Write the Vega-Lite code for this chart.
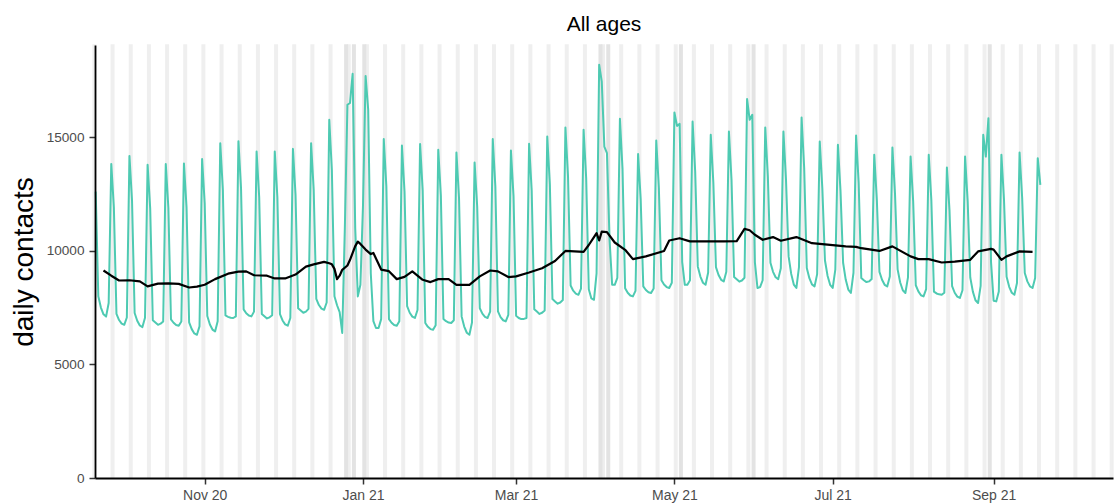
{
  "$schema": "https://vega.github.io/schema/vega-lite/v6.json",
  "autosize": {"type": "none"},
  "width": 1018,
  "height": 433,
  "padding": {"left": 95, "top": 45, "right": 7, "bottom": 25},
  "background": "white",
  "title": {"text": "All ages", "font": "Liberation Sans", "fontSize": 21, "fontWeight": "normal", "color": "#000000", "anchor": "middle", "frame": "group", "baseline": "alphabetic", "offset": -8},
  "config": {
    "view": {"stroke": null},
    "axis": {"grid": false, "domainColor": "#000000", "domainWidth": 1.8, "tickColor": "#333333", "tickWidth": 1.5, "tickSize": 6, "labelFont": "Liberation Sans", "labelColor": "#4D4D4D", "titleFont": "Liberation Sans"}
  },
  "datasets": {
    "weekends": [
      {"sat":"2020-09-19","sun":"2020-09-20"},{"sat":"2020-09-26","sun":"2020-09-27"},{"sat":"2020-10-03","sun":"2020-10-04"},{"sat":"2020-10-10","sun":"2020-10-11"},{"sat":"2020-10-17","sun":"2020-10-18"},{"sat":"2020-10-24","sun":"2020-10-25"},{"sat":"2020-10-31","sun":"2020-11-01"},{"sat":"2020-11-07","sun":"2020-11-08"},{"sat":"2020-11-14","sun":"2020-11-15"},{"sat":"2020-11-21","sun":"2020-11-22"},{"sat":"2020-11-28","sun":"2020-11-29"},{"sat":"2020-12-05","sun":"2020-12-06"},{"sat":"2020-12-12","sun":"2020-12-13"},{"sat":"2020-12-19","sun":"2020-12-20"},{"sat":"2020-12-26","sun":"2020-12-27"},
      {"sat":"2021-01-02","sun":"2021-01-03"},{"sat":"2021-01-09","sun":"2021-01-10"},{"sat":"2021-01-16","sun":"2021-01-17"},{"sat":"2021-01-23","sun":"2021-01-24"},{"sat":"2021-01-30","sun":"2021-01-31"},{"sat":"2021-02-06","sun":"2021-02-07"},{"sat":"2021-02-13","sun":"2021-02-14"},{"sat":"2021-02-20","sun":"2021-02-21"},{"sat":"2021-02-27","sun":"2021-02-28"},{"sat":"2021-03-06","sun":"2021-03-07"},{"sat":"2021-03-13","sun":"2021-03-14"},{"sat":"2021-03-20","sun":"2021-03-21"},{"sat":"2021-03-27","sun":"2021-03-28"},{"sat":"2021-04-03","sun":"2021-04-04"},{"sat":"2021-04-10","sun":"2021-04-11"},{"sat":"2021-04-17","sun":"2021-04-18"},{"sat":"2021-04-24","sun":"2021-04-25"},{"sat":"2021-05-01","sun":"2021-05-02"},{"sat":"2021-05-08","sun":"2021-05-09"},{"sat":"2021-05-15","sun":"2021-05-16"},{"sat":"2021-05-22","sun":"2021-05-23"},{"sat":"2021-05-29","sun":"2021-05-30"},{"sat":"2021-06-05","sun":"2021-06-06"},{"sat":"2021-06-12","sun":"2021-06-13"},{"sat":"2021-06-19","sun":"2021-06-20"},{"sat":"2021-06-26","sun":"2021-06-27"},{"sat":"2021-07-03","sun":"2021-07-04"},{"sat":"2021-07-10","sun":"2021-07-11"},{"sat":"2021-07-17","sun":"2021-07-18"},{"sat":"2021-07-24","sun":"2021-07-25"},{"sat":"2021-07-31","sun":"2021-08-01"},{"sat":"2021-08-07","sun":"2021-08-08"},{"sat":"2021-08-14","sun":"2021-08-15"},{"sat":"2021-08-21","sun":"2021-08-22"},{"sat":"2021-08-28","sun":"2021-08-29"},{"sat":"2021-09-04","sun":"2021-09-05"},{"sat":"2021-09-11","sun":"2021-09-12"},{"sat":"2021-09-18","sun":"2021-09-19"},{"sat":"2021-09-25","sun":"2021-09-26"},{"sat":"2021-10-02","sun":"2021-10-03"},{"sat":"2021-10-09","sun":"2021-10-10"},{"sat":"2021-10-16","sun":"2021-10-17"}
    ],
    "holidays": [
      {"day":"2020-12-25","next":"2020-12-26"},{"day":"2020-12-28","next":"2020-12-29"},{"day":"2021-01-01","next":"2021-01-02"},{"day":"2021-04-02","next":"2021-04-03"},{"day":"2021-04-05","next":"2021-04-06"},{"day":"2021-05-03","next":"2021-05-04"},{"day":"2021-05-31","next":"2021-06-01"},{"day":"2021-08-30","next":"2021-08-31"}
    ],
    "daily": [
      {"d":"2020-09-20","v":12600},{"d":"2020-09-21","v":8000},{"d":"2020-09-22","v":7500},{"d":"2020-09-23","v":7200},{"d":"2020-09-24","v":7100},{"d":"2020-09-25","v":7700},{"d":"2020-09-26","v":13820},
      {"d":"2020-09-27","v":11900},{"d":"2020-09-28","v":7220},{"d":"2020-09-29","v":6950},{"d":"2020-09-30","v":6790},{"d":"2020-10-01","v":6740},{"d":"2020-10-02","v":7060},{"d":"2020-10-03","v":14170},
      {"d":"2020-10-04","v":12190},{"d":"2020-10-05","v":7260},{"d":"2020-10-06","v":6920},{"d":"2020-10-07","v":6710},{"d":"2020-10-08","v":6640},{"d":"2020-10-09","v":7050},{"d":"2020-10-10","v":13780},
      {"d":"2020-10-11","v":11850},{"d":"2020-10-12","v":6940},{"d":"2020-10-13","v":6840},{"d":"2020-10-14","v":6740},{"d":"2020-10-15","v":6790},{"d":"2020-10-16","v":6890},{"d":"2020-10-17","v":13810},
      {"d":"2020-10-18","v":11880},{"d":"2020-10-19","v":6980},{"d":"2020-10-20","v":6830},{"d":"2020-10-21","v":6730},{"d":"2020-10-22","v":6700},{"d":"2020-10-23","v":6890},{"d":"2020-10-24","v":13840},
      {"d":"2020-10-25","v":11900},{"d":"2020-10-26","v":6850},{"d":"2020-10-27","v":6550},{"d":"2020-10-28","v":6360},{"d":"2020-10-29","v":6300},{"d":"2020-10-30","v":6670},{"d":"2020-10-31","v":14030},
      {"d":"2020-11-01","v":12070},{"d":"2020-11-02","v":7130},{"d":"2020-11-03","v":6750},{"d":"2020-11-04","v":6530},{"d":"2020-11-05","v":6450},{"d":"2020-11-06","v":6900},{"d":"2020-11-07","v":14730},
      {"d":"2020-11-08","v":12670},{"d":"2020-11-09","v":7150},{"d":"2020-11-10","v":7090},{"d":"2020-11-11","v":7050},{"d":"2020-11-12","v":7040},{"d":"2020-11-13","v":7110},{"d":"2020-11-14","v":14820},
      {"d":"2020-11-15","v":12750},{"d":"2020-11-16","v":7420},{"d":"2020-11-17","v":7250},{"d":"2020-11-18","v":7150},{"d":"2020-11-19","v":7110},{"d":"2020-11-20","v":7320},{"d":"2020-11-21","v":14360},
      {"d":"2020-11-22","v":12350},{"d":"2020-11-23","v":7220},{"d":"2020-11-24","v":7120},{"d":"2020-11-25","v":7020},{"d":"2020-11-26","v":7070},{"d":"2020-11-27","v":7160},{"d":"2020-11-28","v":14360},
      {"d":"2020-11-29","v":12350},{"d":"2020-11-30","v":7210},{"d":"2020-12-01","v":6930},{"d":"2020-12-02","v":6760},{"d":"2020-12-03","v":6700},{"d":"2020-12-04","v":7040},{"d":"2020-12-05","v":14480},
      {"d":"2020-12-06","v":12450},{"d":"2020-12-07","v":7470},{"d":"2020-12-08","v":7370},{"d":"2020-12-09","v":7270},{"d":"2020-12-10","v":7320},{"d":"2020-12-11","v":7440},{"d":"2020-12-12","v":14730},
      {"d":"2020-12-13","v":12670},{"d":"2020-12-14","v":7880},{"d":"2020-12-15","v":7610},{"d":"2020-12-16","v":7450},{"d":"2020-12-17","v":7400},{"d":"2020-12-18","v":7720},{"d":"2020-12-19","v":15760},
      {"d":"2020-12-20","v":13550},{"d":"2020-12-21","v":8000},{"d":"2020-12-22","v":7600},{"d":"2020-12-23","v":7300},{"d":"2020-12-24","v":6380},{"d":"2020-12-25","v":11000},{"d":"2020-12-26","v":16420},
      {"d":"2020-12-27","v":16500},{"d":"2020-12-28","v":17780},{"d":"2020-12-29","v":11000},{"d":"2020-12-30","v":7990},{"d":"2020-12-31","v":8500},{"d":"2021-01-01","v":12000},{"d":"2021-01-02","v":17690},
      {"d":"2021-01-03","v":16200},{"d":"2021-01-04","v":9000},{"d":"2021-01-05","v":6900},{"d":"2021-01-06","v":6600},{"d":"2021-01-07","v":6600},{"d":"2021-01-08","v":6990},{"d":"2021-01-09","v":14910},
      {"d":"2021-01-10","v":12820},{"d":"2021-01-11","v":6990},{"d":"2021-01-12","v":6830},{"d":"2021-01-13","v":6730},{"d":"2021-01-14","v":6700},{"d":"2021-01-15","v":6900},{"d":"2021-01-16","v":14630},
      {"d":"2021-01-17","v":12580},{"d":"2021-01-18","v":7560},{"d":"2021-01-19","v":7270},{"d":"2021-01-20","v":7100},{"d":"2021-01-21","v":7040},{"d":"2021-01-22","v":7390},{"d":"2021-01-23","v":14690},
      {"d":"2021-01-24","v":12630},{"d":"2021-01-25","v":6820},{"d":"2021-01-26","v":6650},{"d":"2021-01-27","v":6550},{"d":"2021-01-28","v":6520},{"d":"2021-01-29","v":6720},{"d":"2021-01-30","v":14440},
      {"d":"2021-01-31","v":12420},{"d":"2021-02-01","v":7000},{"d":"2021-02-02","v":6900},{"d":"2021-02-03","v":6840},{"d":"2021-02-04","v":6820},{"d":"2021-02-05","v":6940},{"d":"2021-02-06","v":14320},
      {"d":"2021-02-07","v":12320},{"d":"2021-02-08","v":7110},{"d":"2021-02-09","v":6660},{"d":"2021-02-10","v":6390},{"d":"2021-02-11","v":6300},{"d":"2021-02-12","v":6840},{"d":"2021-02-13","v":13880},
      {"d":"2021-02-14","v":11940},{"d":"2021-02-15","v":7470},{"d":"2021-02-16","v":7230},{"d":"2021-02-17","v":7090},{"d":"2021-02-18","v":7040},{"d":"2021-02-19","v":7320},{"d":"2021-02-20","v":14910},
      {"d":"2021-02-21","v":12820},{"d":"2021-02-22","v":7330},{"d":"2021-02-23","v":7080},{"d":"2021-02-24","v":6940},{"d":"2021-02-25","v":6890},{"d":"2021-02-26","v":7180},{"d":"2021-02-27","v":14410},
      {"d":"2021-02-28","v":12390},{"d":"2021-03-01","v":7140},{"d":"2021-03-02","v":7040},{"d":"2021-03-03","v":6990},{"d":"2021-03-04","v":7000},{"d":"2021-03-05","v":7040},{"d":"2021-03-06","v":14700},
      {"d":"2021-03-07","v":12640},{"d":"2021-03-08","v":7420},{"d":"2021-03-09","v":7320},{"d":"2021-03-10","v":7220},{"d":"2021-03-11","v":7270},{"d":"2021-03-12","v":7370},{"d":"2021-03-13","v":15020},
      {"d":"2021-03-14","v":12920},{"d":"2021-03-15","v":7870},{"d":"2021-03-16","v":7770},{"d":"2021-03-17","v":7670},{"d":"2021-03-18","v":7720},{"d":"2021-03-19","v":7830},{"d":"2021-03-20","v":15420},
      {"d":"2021-03-21","v":13260},{"d":"2021-03-22","v":8470},{"d":"2021-03-23","v":8240},{"d":"2021-03-24","v":8110},{"d":"2021-03-25","v":8060},{"d":"2021-03-26","v":8330},{"d":"2021-03-27","v":15320},
      {"d":"2021-03-28","v":13180},{"d":"2021-03-29","v":8300},{"d":"2021-03-30","v":7900},{"d":"2021-03-31","v":7840},{"d":"2021-04-01","v":9000},{"d":"2021-04-02","v":18180},{"d":"2021-04-03","v":17440},
      {"d":"2021-04-04","v":14580},{"d":"2021-04-05","v":14290},{"d":"2021-04-06","v":10500},{"d":"2021-04-07","v":8500},{"d":"2021-04-08","v":8500},{"d":"2021-04-09","v":8800},{"d":"2021-04-10","v":15800},
      {"d":"2021-04-11","v":13590},{"d":"2021-04-12","v":8350},{"d":"2021-04-13","v":8150},{"d":"2021-04-14","v":8030},{"d":"2021-04-15","v":7990},{"d":"2021-04-16","v":8230},{"d":"2021-04-17","v":14250},
      {"d":"2021-04-18","v":12260},{"d":"2021-04-19","v":8430},{"d":"2021-04-20","v":8270},{"d":"2021-04-21","v":8170},{"d":"2021-04-22","v":8140},{"d":"2021-04-23","v":8340},{"d":"2021-04-24","v":14850},
      {"d":"2021-04-25","v":12770},{"d":"2021-04-26","v":8700},{"d":"2021-04-27","v":8510},{"d":"2021-04-28","v":8400},{"d":"2021-04-29","v":8360},{"d":"2021-04-30","v":8590},{"d":"2021-05-01","v":16080},
      {"d":"2021-05-02","v":15490},{"d":"2021-05-03","v":15580},{"d":"2021-05-04","v":9500},{"d":"2021-05-05","v":8500},{"d":"2021-05-06","v":8500},{"d":"2021-05-07","v":8700},{"d":"2021-05-08","v":15680},
      {"d":"2021-05-09","v":13480},{"d":"2021-05-10","v":9310},{"d":"2021-05-11","v":8860},{"d":"2021-05-12","v":8590},{"d":"2021-05-13","v":8500},{"d":"2021-05-14","v":9040},{"d":"2021-05-15","v":15100},
      {"d":"2021-05-16","v":12990},{"d":"2021-05-17","v":9280},{"d":"2021-05-18","v":8930},{"d":"2021-05-19","v":8720},{"d":"2021-05-20","v":8650},{"d":"2021-05-21","v":9070},{"d":"2021-05-22","v":15240},
      {"d":"2021-05-23","v":13110},{"d":"2021-05-24","v":8840},{"d":"2021-05-25","v":8740},{"d":"2021-05-26","v":8640},{"d":"2021-05-27","v":8690},{"d":"2021-05-28","v":8810},{"d":"2021-05-29","v":16670},
      {"d":"2021-05-30","v":15760},{"d":"2021-05-31","v":15980},{"d":"2021-06-01","v":9500},{"d":"2021-06-02","v":8360},{"d":"2021-06-03","v":8400},{"d":"2021-06-04","v":8700},{"d":"2021-06-05","v":15420},
      {"d":"2021-06-06","v":13260},{"d":"2021-06-07","v":9470},{"d":"2021-06-08","v":9070},{"d":"2021-06-09","v":8830},{"d":"2021-06-10","v":8750},{"d":"2021-06-11","v":9230},{"d":"2021-06-12","v":15240},
      {"d":"2021-06-13","v":13110},{"d":"2021-06-14","v":9750},{"d":"2021-06-15","v":8980},{"d":"2021-06-16","v":8510},{"d":"2021-06-17","v":8360},{"d":"2021-06-18","v":9280},{"d":"2021-06-19","v":15860},
      {"d":"2021-06-20","v":13640},{"d":"2021-06-21","v":9240},{"d":"2021-06-22","v":8790},{"d":"2021-06-23","v":8520},{"d":"2021-06-24","v":8430},{"d":"2021-06-25","v":8970},{"d":"2021-06-26","v":14800},
      {"d":"2021-06-27","v":12730},{"d":"2021-06-28","v":9580},{"d":"2021-06-29","v":8900},{"d":"2021-06-30","v":8500},{"d":"2021-07-01","v":8360},{"d":"2021-07-02","v":9170},{"d":"2021-07-03","v":14660},
      {"d":"2021-07-04","v":12610},{"d":"2021-07-05","v":9470},{"d":"2021-07-06","v":8730},{"d":"2021-07-07","v":8290},{"d":"2021-07-08","v":8140},{"d":"2021-07-09","v":9030},{"d":"2021-07-10","v":15070},
      {"d":"2021-07-11","v":12960},{"d":"2021-07-12","v":8800},{"d":"2021-07-13","v":8700},{"d":"2021-07-14","v":8620},{"d":"2021-07-15","v":8650},{"d":"2021-07-16","v":8750},{"d":"2021-07-17","v":14220},
      {"d":"2021-07-18","v":12230},{"d":"2021-07-19","v":9070},{"d":"2021-07-20","v":8720},{"d":"2021-07-21","v":8500},{"d":"2021-07-22","v":8430},{"d":"2021-07-23","v":8860},{"d":"2021-07-24","v":14540},
      {"d":"2021-07-25","v":12500},{"d":"2021-07-26","v":9180},{"d":"2021-07-27","v":8600},{"d":"2021-07-28","v":8260},{"d":"2021-07-29","v":8140},{"d":"2021-07-30","v":8830},{"d":"2021-07-31","v":14140},
      {"d":"2021-08-01","v":12160},{"d":"2021-08-02","v":8480},{"d":"2021-08-03","v":8210},{"d":"2021-08-04","v":8040},{"d":"2021-08-05","v":7990},{"d":"2021-08-06","v":8310},{"d":"2021-08-07","v":14220},
      {"d":"2021-08-08","v":12230},{"d":"2021-08-09","v":8200},{"d":"2021-08-10","v":8120},{"d":"2021-08-11","v":8080},{"d":"2021-08-12","v":8060},{"d":"2021-08-13","v":8150},{"d":"2021-08-14","v":13660},
      {"d":"2021-08-15","v":11750},{"d":"2021-08-16","v":8440},{"d":"2021-08-17","v":8150},{"d":"2021-08-18","v":7980},{"d":"2021-08-19","v":7920},{"d":"2021-08-20","v":8260},{"d":"2021-08-21","v":14140},
      {"d":"2021-08-22","v":12160},{"d":"2021-08-23","v":8820},{"d":"2021-08-24","v":8200},{"d":"2021-08-25","v":7820},{"d":"2021-08-26","v":7700},{"d":"2021-08-27","v":8450},{"d":"2021-08-28","v":15100},
      {"d":"2021-08-29","v":14140},{"d":"2021-08-30","v":15830},{"d":"2021-08-31","v":9500},{"d":"2021-09-01","v":7800},{"d":"2021-09-02","v":7770},{"d":"2021-09-03","v":8200},{"d":"2021-09-04","v":14220},
      {"d":"2021-09-05","v":12230},{"d":"2021-09-06","v":8850},{"d":"2021-09-07","v":8410},{"d":"2021-09-08","v":8150},{"d":"2021-09-09","v":8060},{"d":"2021-09-10","v":8580},{"d":"2021-09-11","v":14320},
      {"d":"2021-09-12","v":12320},{"d":"2021-09-13","v":9020},{"d":"2021-09-14","v":8650},{"d":"2021-09-15","v":8430},{"d":"2021-09-16","v":8360},{"d":"2021-09-17","v":8800},{"d":"2021-09-18","v":14070},
      {"d":"2021-09-19","v":12900}
    ],
    "avg": [
      {"d":"2020-09-23","a":9130},{"d":"2020-09-26","a":8900},{"d":"2020-09-29","a":8690},{"d":"2020-10-03","a":8700},{"d":"2020-10-07","a":8650},{"d":"2020-10-10","a":8430},{"d":"2020-10-14","a":8550},{"d":"2020-10-18","a":8560},{"d":"2020-10-22","a":8540},{"d":"2020-10-26","a":8380},{"d":"2020-10-29","a":8420},{"d":"2020-11-01","a":8500},{"d":"2020-11-05","a":8750},{"d":"2020-11-10","a":8990},{"d":"2020-11-14","a":9080},{"d":"2020-11-17","a":9090},{"d":"2020-11-20","a":8920},{"d":"2020-11-25","a":8900},{"d":"2020-11-28","a":8780},{"d":"2020-12-02","a":8780},{"d":"2020-12-06","a":8950},{"d":"2020-12-10","a":9300},{"d":"2020-12-13","a":9400},{"d":"2020-12-17","a":9510},{"d":"2020-12-19","a":9450},{"d":"2020-12-20","a":9400},{"d":"2020-12-21","a":9200},{"d":"2020-12-22","a":8750},{"d":"2020-12-23","a":8900},{"d":"2020-12-24","a":9160},{"d":"2020-12-26","a":9350},{"d":"2020-12-27","a":9600},{"d":"2020-12-29","a":10200},{"d":"2020-12-30","a":10400},{"d":"2020-12-31","a":10300},{"d":"2021-01-02","a":10050},{"d":"2021-01-04","a":9850},{"d":"2021-01-05","a":9900},{"d":"2021-01-08","a":9170},{"d":"2021-01-11","a":9100},{"d":"2021-01-14","a":8750},{"d":"2021-01-17","a":8850},{"d":"2021-01-20","a":9090},{"d":"2021-01-24","a":8720},{"d":"2021-01-27","a":8620},{"d":"2021-01-30","a":8750},{"d":"2021-02-03","a":8750},{"d":"2021-02-06","a":8500},{"d":"2021-02-11","a":8500},{"d":"2021-02-15","a":8870},{"d":"2021-02-19","a":9130},{"d":"2021-02-22","a":9090},{"d":"2021-02-26","a":8840},{"d":"2021-03-01","a":8870},{"d":"2021-03-06","a":9040},{"d":"2021-03-11","a":9230},{"d":"2021-03-16","a":9550},{"d":"2021-03-20","a":9990},{"d":"2021-03-27","a":9950},{"d":"2021-03-29","a":10250},{"d":"2021-03-31","a":10600},{"d":"2021-04-01","a":10770},{"d":"2021-04-02","a":10450},{"d":"2021-04-03","a":10840},{"d":"2021-04-05","a":10820},{"d":"2021-04-08","a":10360},{"d":"2021-04-12","a":10040},{"d":"2021-04-15","a":9630},{"d":"2021-04-20","a":9750},{"d":"2021-04-27","a":9990},{"d":"2021-04-29","a":10450},{"d":"2021-05-03","a":10550},{"d":"2021-05-07","a":10410},{"d":"2021-05-12","a":10410},{"d":"2021-05-20","a":10410},{"d":"2021-05-25","a":10420},{"d":"2021-05-26","a":10600},{"d":"2021-05-28","a":10960},{"d":"2021-05-30","a":10900},{"d":"2021-06-01","a":10700},{"d":"2021-06-04","a":10480},{"d":"2021-06-08","a":10600},{"d":"2021-06-11","a":10440},{"d":"2021-06-17","a":10600},{"d":"2021-06-23","a":10330},{"d":"2021-06-30","a":10260},{"d":"2021-07-06","a":10190},{"d":"2021-07-10","a":10170},{"d":"2021-07-12","a":10110},{"d":"2021-07-19","a":9990},{"d":"2021-07-24","a":10190},{"d":"2021-07-31","a":9750},{"d":"2021-08-03","a":9630},{"d":"2021-08-07","a":9630},{"d":"2021-08-12","a":9480},{"d":"2021-08-17","a":9520},{"d":"2021-08-23","a":9600},{"d":"2021-08-26","a":9970},{"d":"2021-08-31","a":10080},{"d":"2021-09-01","a":10050},{"d":"2021-09-03","a":9750},{"d":"2021-09-04","a":9600},{"d":"2021-09-06","a":9750},{"d":"2021-09-11","a":9970},{"d":"2021-09-16","a":9950}
    ]
  },
  "layer": [
    {
      "data": {"name": "weekends"},
      "mark": {"type": "rect", "color": "#EFEFEF", "stroke": "#EFEFEF", "strokeWidth": 1.4},
      "encoding": {
        "x": {"field": "sat", "type": "temporal", "scale": {"type": "utc", "domain": [{"year": 2020, "month": 9, "date": 19, "hours": 17, "minutes": 30, "utc": true}, {"year": 2021, "month": 10, "date": 17, "utc": true}]},
          "axis": {"title": null, "format": "%b %y", "labelFontSize": 14, "labelPadding": 4, "zindex": 2,
            "values": [{"year": 2020, "month": 11, "date": 1, "utc": true}, {"year": 2021, "month": 1, "date": 1, "utc": true}, {"year": 2021, "month": 3, "date": 1, "utc": true}, {"year": 2021, "month": 5, "date": 1, "utc": true}, {"year": 2021, "month": 7, "date": 1, "utc": true}, {"year": 2021, "month": 9, "date": 1, "utc": true}]}},
        "x2": {"field": "sun"}
      }
    },
    {
      "data": {"name": "holidays"},
      "mark": {"type": "rect", "color": "#E3E3E3", "stroke": "#E3E3E3", "strokeWidth": 1.4},
      "encoding": {
        "x": {"field": "day", "type": "temporal"},
        "x2": {"field": "next"}
      }
    },
    {
      "data": {"name": "daily"},
      "mark": {"type": "line", "color": "#4ECAB2", "strokeWidth": 2, "strokeJoin": "round"},
      "encoding": {
        "x": {"field": "d", "type": "temporal"},
        "y": {"field": "v", "type": "quantitative", "scale": {"domain": [0, 19050], "nice": false, "zero": true},
          "axis": {"values": [0, 5000, 10000, 15000], "format": "d", "zindex": 2, "labelFontSize": 13.6, "labelPadding": 5, "title": "daily contacts", "titleFontSize": 28, "titleFontWeight": "normal", "titleColor": "#000000", "titleX": -63, "titleY": 216.5, "titleAngle": -90, "titleAlign": "center", "titleBaseline": "alphabetic"}}
      }
    },
    {
      "data": {"name": "avg"},
      "mark": {"type": "line", "color": "#000000", "strokeWidth": 2.2, "strokeJoin": "round"},
      "encoding": {
        "x": {"field": "d", "type": "temporal"},
        "y": {"field": "a", "type": "quantitative"}
      }
    }
  ]
}
